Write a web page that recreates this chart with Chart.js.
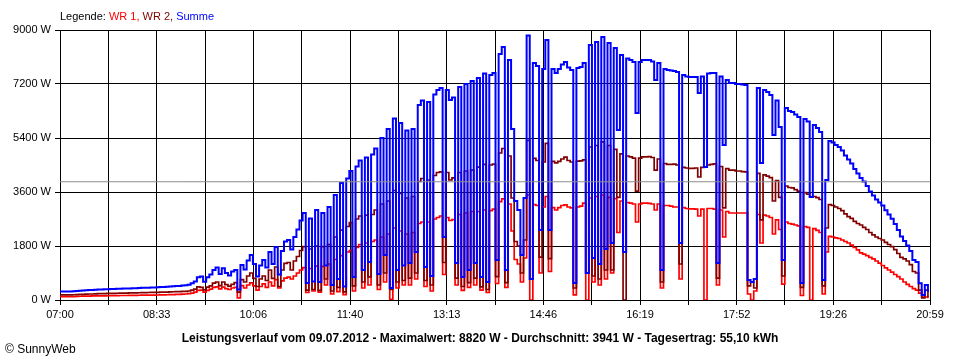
<!DOCTYPE html>
<html><head><meta charset="utf-8">
<style>html,body{margin:0;padding:0;background:#fff;}#wrap{width:960px;height:360px;position:relative;}</style>
<script src="https://cdn.jsdelivr.net/npm/chart.js@4.4.1/dist/chart.umd.min.js"></script>
</head><body><div id="wrap"><canvas id="c" width="960" height="360"></canvas></div>
<script>
// minutes after 07:00, one sample every 3 minutes
const stepMinutes = 3;
const xMaxMinutes = 839;
const xTickLabels = ['07:00','','08:33','','10:06','','11:40','','13:13','','14:46','','16:19','','17:52','','19:26','','20:59'];
const yTickStep = 1800;
const yMax = 9000;
const averageW = 3941;
const titleText = 'Leistungsverlauf vom 09.07.2012 - Maximalwert: 8820 W - Durchschnitt: 3941 W - Tagesertrag: 55,10 kWh';

const wr1 = [
110,110,110,112,115,120,125,130,130,132,
135,135,138,140,140,142,145,145,148,150,
150,150,152,155,155,158,160,160,162,165,
165,167,170,172,175,178,180,185,190,195,
200,210,230,260,320,330,260,320,360,420,
440,370,430,380,350,400,420,70,480,400,
500,570,470,330,450,540,420,600,470,680,
400,640,730,760,700,800,900,1000,1080,250,
1050,300,1130,260,1120,500,1200,200,1350,280,
1480,180,1600,1650,300,1750,1850,400,1900,500,
1950,2000,350,2100,600,2200,20,2400,400,2300,
500,2200,500,2250,700,2550,2600,450,2600,300,
2700,2750,2800,850,2750,2650,2680,500,2850,320,
2900,420,2950,500,2950,330,3000,250,2980,3030,
550,3280,3370,420,3200,2300,1350,1200,600,1400,
3500,0,3180,3150,900,3100,3450,950,3080,3000,
3080,3150,3170,3100,3070,170,3100,3130,3230,0,
3400,600,3450,500,3500,700,3420,900,3380,2250,
3300,1600,3250,3230,3200,2600,3200,3230,3230,3220,
3200,3000,3200,400,3150,3150,3130,3100,3100,700,
3080,3050,3040,3040,3030,2800,3030,0,3050,3050,
3030,500,3000,2100,2950,2900,2900,2900,2900,2900,
2900,200,0,300,2850,1900,2830,2800,2750,2200,
2670,2350,530,2600,2550,2530,2500,2470,150,2450,
2420,0,2380,2320,2250,200,1600,2120,2100,2070,
2050,2000,1950,1900,1830,1750,1670,1570,1530,1480,
1420,1370,1300,1230,1150,1070,1000,930,850,780,
700,600,520,450,380,330,230,100,100,60
];
const wr2 = [
170,170,170,172,175,180,185,190,195,200,
200,205,210,212,215,218,220,222,225,228,
230,232,235,238,240,242,245,248,250,252,
255,256,260,262,265,270,275,278,280,285,
290,300,330,360,440,420,340,430,470,560,
600,480,600,510,460,520,580,260,680,600,
800,900,720,450,700,800,650,1000,720,1100,
450,1000,1220,1250,1000,1300,1450,1650,1780,330,
1700,350,1800,320,1780,700,1850,300,2100,420,
2330,270,2450,2580,470,2700,2800,600,2830,770,
2850,3000,500,3200,900,3300,350,3650,600,3550,
650,3400,730,3450,900,3950,4050,650,4000,500,
4150,4250,4270,1250,4250,4000,4070,730,4250,450,
4300,580,4330,730,4430,440,4520,350,4500,4530,
780,4900,5050,580,4800,3400,1950,1800,900,2000,
5320,700,4720,4650,1430,4600,5220,1380,4620,4570,
4620,4700,4760,4650,4600,400,4630,4640,4670,900,
5100,800,5150,700,5270,1000,5150,1000,5020,3420,
4870,0,4800,4770,4730,3630,4730,4770,4770,4780,
4750,4330,4700,600,4550,4520,4520,4530,4500,1200,
4420,4400,4390,4390,4400,4100,4420,4430,4500,4520,
4540,730,4450,3070,4380,4330,4330,4300,4300,4280,
4270,470,600,400,4220,2670,4170,4130,4080,3300,
3980,3420,800,3800,3750,3740,3680,3630,420,3580,
3530,3430,3450,3410,3350,470,2400,3180,3150,3100,
3050,2980,2870,2780,2720,2620,2550,2500,2420,2350,
2250,2170,2100,2050,2000,1920,1850,1780,1680,1550,
1420,1370,1300,1180,950,900,330,70,330,100
];
const summe = [
280,280,280,284,290,300,310,320,325,332,
335,340,348,352,355,360,365,367,373,378,
380,382,387,393,395,400,405,408,412,417,
420,423,430,434,440,448,455,463,470,480,
490,510,560,620,760,780,610,760,850,1000,
1080,870,1060,900,820,950,1000,350,1170,1020,
1320,1500,1200,780,1150,1330,1080,1600,1200,1770,
850,1630,1950,2000,1680,2100,2350,2650,2900,570,
2720,620,3000,600,2900,1150,3100,500,3500,700,
3900,450,4050,4300,770,4450,4650,1000,4750,1270,
4850,5050,870,5400,1500,5700,400,6050,1000,5900,
1150,5650,1230,5700,1600,6500,6650,1100,6600,800,
6850,7000,7070,2100,7000,6670,6750,1230,7100,770,
7200,1000,7300,1230,7400,770,7550,600,7500,7570,
1330,8200,8430,1000,8000,5700,3300,3000,1500,3400,
8820,700,7900,7800,2330,7700,8670,2330,7700,7570,
7700,7850,7930,7750,7670,570,7730,7770,7900,900,
8500,1400,8600,1200,8770,1700,8570,1900,8400,5670,
8170,1600,8050,8000,7930,6230,7930,8000,8000,8000,
7950,7330,7900,1000,7700,7670,7650,7630,7600,1900,
7500,7450,7430,7430,7430,6900,7450,4430,7550,7570,
7570,1230,7450,5170,7330,7230,7230,7200,7200,7180,
7170,670,600,700,7070,4570,7000,6930,6830,5500,
6650,5770,1330,6400,6300,6270,6180,6100,570,6030,
5950,3430,5830,5730,5600,670,4000,5300,5250,5170,
5100,4980,4820,4680,4550,4370,4220,4070,3950,3800,
3620,3480,3350,3250,3150,2990,2850,2710,2530,2330,
2120,1970,1820,1630,1330,1270,560,170,500,270
];

const toPoints = arr => arr.map((v, i) => ({x: i * stepMinutes, y: v}));
const font = '"Liberation Sans", Arial, sans-serif';

const textPlugin = {
  id: 'texts',
  afterDraw(chart) {
    const ctx = chart.ctx;
    ctx.save();
    ctx.textBaseline = 'alphabetic';
    ctx.font = '11px ' + font;
    let x = 60;
    const parts = [['Legende: ', '#000000'], ['WR 1, ', '#ff0000'], ['WR 2, ', '#800000'], ['Summe', '#0000ff']];
    for (const [t, c] of parts) { ctx.fillStyle = c; ctx.fillText(t, x, 20); x += ctx.measureText(t).width; }
    ctx.fillStyle = '#000';
    ctx.font = 'bold 12px ' + font;
    ctx.textAlign = 'center';
    ctx.fillText(titleText, 480, 342);
    ctx.textAlign = 'left';
    ctx.font = '12px ' + font;
    ctx.fillText('\u00A9 SunnyWeb', 5, 353);
    ctx.restore();
  }
};

new Chart(document.getElementById('c'), {
  type: 'line',
  data: {
    datasets: [
      {label: 'Durchschnitt', data: [{x: 0, y: averageW}, {x: xMaxMinutes, y: averageW}], borderColor: '#8c8c8c', borderWidth: 1, pointRadius: 0, order: 0},
      {label: 'Summe', data: toPoints(summe), borderColor: '#0000ff', borderWidth: 2, pointRadius: 0, stepped: true, order: 1},
      {label: 'WR 2', data: toPoints(wr2), borderColor: '#800000', borderWidth: 1.7, pointRadius: 0, stepped: true, order: 2},
      {label: 'WR 1', data: toPoints(wr1), borderColor: '#ff0000', borderWidth: 1.7, pointRadius: 0, stepped: true, order: 3}
    ]
  },
  options: {
    responsive: false,
    animation: false,
    devicePixelRatio: 1,
    layout: {padding: {top: 30, right: 30, left: 0, bottom: 0}},
    plugins: {legend: {display: false}, tooltip: {enabled: false}},
    scales: {
      x: {
        type: 'linear', min: 0, max: xMaxMinutes, z: 1,
        afterBuildTicks: s => { s.ticks = xTickLabels.map((l, k) => ({value: k * xMaxMinutes / (xTickLabels.length - 1)})); },
        afterFit: s => { s.height = 60; },
        ticks: {autoSkip: false, maxRotation: 0, color: '#000', padding: 3, font: {family: font, size: 11},
          callback: (v, idx) => xTickLabels[idx]},
        grid: {color: '#000', lineWidth: 1, tickLength: 5, tickColor: '#000'},
        border: {color: '#000'}
      },
      y: {
        min: 0, max: yMax, z: 1,
        afterFit: s => { s.width = 60; },
        ticks: {stepSize: yTickStep, color: '#000', padding: 4, font: {family: font, size: 11},
          callback: v => v + ' W'},
        grid: {color: '#000', lineWidth: 1, tickLength: 5, tickColor: '#000'},
        border: {color: '#000'}
      }
    }
  },
  plugins: [textPlugin]
});
</script></body></html>
